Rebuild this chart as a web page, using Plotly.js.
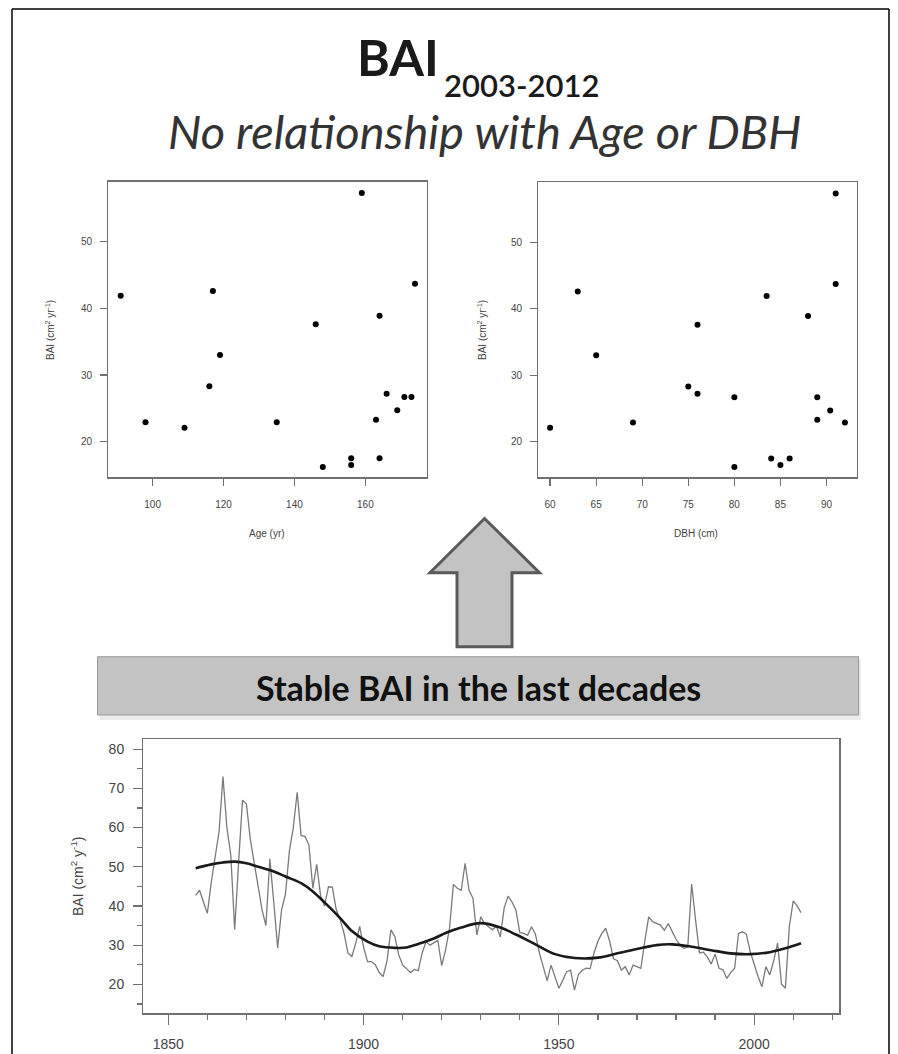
<!DOCTYPE html>
<html><head><meta charset="utf-8">
<script src="https://cdn.plot.ly/plotly-3.0.1.min.js"></script>
<style>html,body{margin:0;padding:0;background:#fff}#chart{width:898px;height:1054px}</style>
</head><body><div id="chart"></div><script>
// ---- Data: individual trees (BAI 2003-2012 vs Age and DBH) ----
const treeAge = [91, 117, 159, 174, 164, 146, 119, 116, 98, 135, 109, 166, 171, 173, 169, 163, 156, 164, 156, 148];
const treeDBH = [83.5, 63, 91, 91, 88, 76, 65, 75, 69, 92, 60, 76, 80, 89, 90.4, 89, 84, 86, 85, 80];
const treeBAI = [41.9, 42.6, 57.3, 43.7, 38.9, 37.6, 33.0, 28.3, 22.9, 22.9, 22.1, 27.2, 26.7, 26.7, 24.7, 23.3, 17.5, 17.5, 16.5, 16.2];

// ---- Data: mean BAI chronology ----
const rawYears = [1857,1858,1859,1860,1861,1862,1863,1864,1865,1866,1867,1868,1869,1870,1871,1872,1873,1874,1875,1876,1877,1878,1879,1880,1881,1882,1883,1884,1885,1886,1887,1888,1889,1890,1891,1892,1893,1894,1895,1896,1897,1898,1899,1900,1901,1902,1903,1904,1905,1906,1907,1908,1909,1910,1911,1912,1913,1914,1915,1916,1917,1918,1919,1920,1921,1922,1923,1924,1925,1926,1927,1928,1929,1930,1931,1932,1933,1934,1935,1936,1937,1938,1939,1940,1941,1942,1943,1944,1945,1946,1947,1948,1949,1950,1951,1952,1953,1954,1955,1956,1957,1958,1959,1960,1961,1962,1963,1964,1965,1966,1967,1968,1969,1970,1971,1972,1973,1974,1975,1976,1977,1978,1979,1980,1981,1982,1983,1984,1985,1986,1987,1988,1989,1990,1991,1992,1993,1994,1995,1996,1997,1998,1999,2000,2001,2002,2003,2004,2005,2006,2007,2008,2009,2010,2011,2012];
const rawBAI = [42.7,44.0,41.0,38.1,46,53,59,73,60,53,34,51,67,66,57,51,45,39,35,52,41,29.3,39,43,54,60,69,58,57.7,55.6,44.5,50.6,42.5,40,44.9,44.8,39,36.5,33,28,27.1,30.5,34.8,29.5,25.8,25.8,25,23,22,26,33.9,32.2,27.5,24.9,24,23,23.8,23.5,28,30.9,30,30.5,31.2,24.8,28.8,34.3,45.5,44.5,44,50.9,44,42,32.6,37.2,35.5,34.7,33.9,34.9,32.1,39.5,42.5,41,39,33.2,33,32.5,34.7,32.8,28,24.5,20.9,24.9,22,19.0,21,23.2,23.6,18.5,22.5,23.6,24.1,24,28,31,33,34.3,31,26.5,26,23.6,24.5,22.4,24.9,24.5,24.1,31,37.2,36,35.5,35.1,33.8,35.5,33.5,31.5,30,29.2,29.5,45.6,36.4,28,28.2,27,25.2,27.7,24.1,23.7,21.5,23,24.1,33,33.4,32.8,28.3,25,22,19.4,24.5,22.4,26,30.5,20,19.0,34.7,41.3,40,38.3];
const smoothYears = [1857,1861,1864,1867,1870,1873,1877,1880,1884,1887,1890,1894,1897,1901,1904,1908,1911,1914,1918,1921,1925,1930,1935,1939,1944,1949,1954,1960,1965,1970,1975,1979,1984,1989,1994,1999,2004,2008,2012];
const smoothBAI = [49.6,50.6,51.1,51.3,50.9,50.0,48.8,47.5,45.8,43.7,40.9,36.9,33.6,30.9,29.7,29.3,29.4,30.3,31.7,33.1,34.5,35.6,34.5,32.7,30.2,27.7,26.7,26.8,27.9,29.0,30.0,30.2,29.6,28.7,27.9,27.7,28.2,29.2,30.5];

// ---- Text ----
const titleMain = "BAI";
const titleSub = "2003-2012";
const subtitle = "No relationship with Age or DBH";
const bannerText = "Stable BAI in the last decades";
const ageLabel = "Age (yr)";
const dbhLabel = "DBH (cm)";
const baiLabelTop = "BAI (cm<sup>2</sup> yr<sup>-1</sup>)";
const baiLabelBottom = "BAI (cm<sup>2</sup> y<sup>-1</sup>)";

// ---- helpers (pixel -> paper) ----
const W = 898, H = 1054;
const fx = x => x / W;
const fy = y => 1 - y / H;

const axFont = {family: "Liberation Sans, Arial, sans-serif", size: 10, color: "#444"};
const axFontB = {family: "Liberation Sans, Arial, sans-serif", size: 14, color: "#444"};
const lineCol = "#707070";

function boxAxis(extra) {
  return Object.assign({
    showline: true, mirror: true, linecolor: lineCol, linewidth: 1.3,
    ticks: "outside", ticklen: 7, tickcolor: lineCol, tickwidth: 1.2,
    showgrid: false, zeroline: false, tickfont: axFont, fixedrange: true
  }, extra);
}

const traces = [
  {x: treeAge, y: treeBAI, xaxis: "x", yaxis: "y", type: "scatter", mode: "markers",
   marker: {color: "#000", size: 6}, hoverinfo: "x+y", name: "Age"},
  {x: treeDBH, y: treeBAI, xaxis: "x2", yaxis: "y2", type: "scatter", mode: "markers",
   marker: {color: "#000", size: 6}, hoverinfo: "x+y", name: "DBH"},
  {x: rawYears, y: rawBAI, xaxis: "x3", yaxis: "y3", type: "scatter", mode: "lines",
   line: {color: "#7a7a7a", width: 1.3}, name: "BAI"},
  {x: smoothYears, y: smoothBAI, xaxis: "x3", yaxis: "y3", type: "scatter", mode: "lines",
   line: {color: "#1a1a1a", width: 2.6, shape: "spline", smoothing: 1.0}, name: "spline"}
];

const arrowPath = [
  [457, 646.7], [457, 572.7], [430, 572.7], [484.5, 518.5], [539.5, 572.7], [512, 572.7], [512, 646.7]
].map((p, i) => (i === 0 ? "M" : "L") + fx(p[0]).toFixed(5) + "," + fy(p[1]).toFixed(5)).join(" ") + " Z";

const layout = {
  width: W, height: H,
  margin: {l: 0, r: 0, t: 0, b: 0},
  paper_bgcolor: "#fff", plot_bgcolor: "#fff",
  showlegend: false,
  font: {family: "Liberation Sans, Arial, sans-serif", color: "#444"},
  xaxis: boxAxis({domain: [fx(108.3), fx(426.7)], range: [87.5, 177.3], tick0: 100, dtick: 20, anchor: "y", ticklabelstandoff: 10}),
  yaxis: boxAxis({domain: [fy(477.3), fy(181.7)], range: [14.66, 59.0], tick0: 0, dtick: 10, anchor: "x", ticklabelstandoff: 6}),
  xaxis2: boxAxis({domain: [fx(538.3), fx(856.7)], range: [58.72, 93.28], tick0: 60, dtick: 5, anchor: "y2", ticklabelstandoff: 10}),
  yaxis2: boxAxis({domain: [fy(477.3), fy(182.3)], range: [14.66, 59.0], tick0: 0, dtick: 10, anchor: "x2", ticklabelstandoff: 6}),
  xaxis3: boxAxis({domain: [fx(143.3), fx(839.3)], range: [1843.6, 2021.8], tick0: 1850, dtick: 50, anchor: "y3",
    ticklen: 10, tickfont: axFontB, ticklabelstandoff: 8,
    minor: {dtick: 10, tick0: 1850, ticklen: 5, tickcolor: lineCol, ticks: "outside", showgrid: false}}),
  yaxis3: boxAxis({domain: [fy(1013.3), fy(739)], range: [12.6, 82.6], tick0: 0, dtick: 10, anchor: "x3",
    ticklen: 9, tickfont: axFontB, ticklabelstandoff: 6,
    minor: {dtick: 5, tick0: 0, ticklen: 5, tickcolor: lineCol, ticks: "outside", showgrid: false}}),
  shapes: [
    // outer frame
    {type: "line", xref: "paper", yref: "paper", x0: fx(12), x1: fx(12), y0: fy(9), y1: fy(1060), line: {color: "#000", width: 1.5}},
    {type: "line", xref: "paper", yref: "paper", x0: fx(12), x1: fx(889), y0: fy(9), y1: fy(9), line: {color: "#000", width: 1.5}},
    {type: "line", xref: "paper", yref: "paper", x0: fx(889), x1: fx(889), y0: fy(9), y1: fy(1060), line: {color: "#000", width: 1.5}},
    // banner shadow
    {type: "rect", xref: "paper", yref: "paper", x0: fx(100), x1: fx(861), y0: fy(720), y1: fy(660), fillcolor: "rgba(0,0,0,0.07)", line: {width: 0}, layer: "below"},
    // banner
    {type: "rect", xref: "paper", yref: "paper", x0: fx(97.5), x1: fx(858.6), y0: fy(715), y1: fy(656.7), fillcolor: "#c3c3c3", line: {color: "#9a9a9a", width: 1}},
    // arrow
    {type: "path", xref: "paper", yref: "paper", path: arrowPath, fillcolor: "#c3c3c3", line: {color: "#5a5a5a", width: 3}}
  ],
  annotations: [
    {text: "<b>" + titleMain + "</b>", xref: "paper", yref: "paper", x: fx(441), y: fy(57), xanchor: "right", yanchor: "middle", showarrow: false,
     font: {family: "Lato, Open Sans, sans-serif", size: 50, color: "#1a1a1a"}},
    {text: titleSub, xref: "paper", yref: "paper", x: fx(442), y: fy(85), xanchor: "left", yanchor: "middle", showarrow: false,
     font: {family: "Lato, Open Sans, sans-serif", size: 31, color: "#1a1a1a", weight: 600}},
    {text: "<i>" + subtitle + "</i>", xref: "paper", yref: "paper", x: fx(485), y: fy(131), xanchor: "center", yanchor: "middle", showarrow: false,
     font: {family: "Lato, Open Sans, sans-serif", size: 47, color: "#333"}},
    {text: "<b>" + bannerText + "</b>", xref: "paper", yref: "paper", x: fx(478), y: fy(687), xanchor: "center", yanchor: "middle", showarrow: false,
     font: {family: "Lato, Open Sans, sans-serif", size: 34, color: "#111"}},
    {text: ageLabel, xref: "paper", yref: "paper", x: fx(267), y: fy(533), xanchor: "center", yanchor: "middle", showarrow: false, font: axFont},
    {text: dbhLabel, xref: "paper", yref: "paper", x: fx(696), y: fy(533), xanchor: "center", yanchor: "middle", showarrow: false, font: axFont},
    {text: baiLabelTop, xref: "paper", yref: "paper", x: fx(50), y: fy(330), xanchor: "center", yanchor: "middle", textangle: -90, showarrow: false, font: axFont},
    {text: baiLabelTop, xref: "paper", yref: "paper", x: fx(482), y: fy(330), xanchor: "center", yanchor: "middle", textangle: -90, showarrow: false, font: axFont},
    {text: baiLabelBottom, xref: "paper", yref: "paper", x: fx(77), y: fy(876), xanchor: "center", yanchor: "middle", textangle: -90, showarrow: false, font: axFontB}
  ]
};

Plotly.newPlot("chart", traces, layout, {displayModeBar: false, staticPlot: true});
</script></body></html>
